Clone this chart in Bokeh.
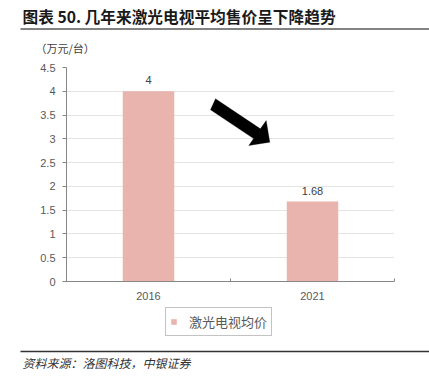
from bokeh.plotting import figure
from bokeh.layouts import column
from bokeh.models import (Range1d, FixedTicker, Label, LabelSet, ColumnDataSource,
                          Legend, LegendItem, PolyAnnotation)
from bokeh.core.properties import value
from bokeh.embed import file_html
from bokeh.resources import INLINE

# ---------------- data ----------------
categories = ["2016", "2021"]
prices = [4, 1.68]
price_labels = ["4", "1.68"]
y_ticks = [0, 0.5, 1, 1.5, 2, 2.5, 3, 3.5, 4, 4.5]
y_tick_labels = ["0", "0.5", "1", "1.5", "2", "2.5", "3", "3.5", "4", "4.5"]
series_name = "激光电视均价"
title_text = "图表 50. 几年来激光电视平均售价呈下降趋势"
unit_text = "（万元/台）"
source_text = "资料来源：洛图科技，中银证券"

BAR_COLOR = "#E9B4AE"
CJK = "Noto Sans CJK SC"
LAT = "Liberation Sans"
W = 429
TOP_H, MAIN_H, BOT_H = 55, 252, 80


def blank_fig(h):
    f = figure(width=W, height=h, x_range=Range1d(0, W), y_range=Range1d(h, 0),
               x_axis_type=None, y_axis_type=None, output_backend="svg",
               toolbar_location=None, min_border=0, frame_align=False)
    f.grid.visible = False
    f.outline_line_color = None
    f.background_fill_color = "white"
    f.border_fill_color = "white"
    return f


# ---------------- header ----------------
top = blank_fig(TOP_H)
top.add_layout(Label(x=22, y=15.5, text=title_text, text_font=CJK,
                     text_font_size="15.7px", text_font_style="bold",
                     text_color="#1a1a1a", text_align="left", text_baseline="middle"))
top.line(x=[20, W], y=[28.5, 28.5], line_color="#595959", line_width=1.5)
top.add_layout(Label(x=35, y=47, text=unit_text, text_font=CJK,
                     text_font_size="11px", text_color="#404040",
                     text_align="left", text_baseline="middle"))

# ---------------- main chart ----------------
FL, FR, FT, FB = 66, 394, 67 - TOP_H, 281 - TOP_H   # frame edges, figure pixels
X0, X1 = 0, len(categories)
Y0, Y1 = 0, 4.5


def dx(px):
    return X0 + (px - FL) / (FR - FL) * (X1 - X0)


def dy(py):
    return Y0 + (FB - (py - TOP_H)) / (FB - FT) * (Y1 - Y0)


p = figure(width=W, height=MAIN_H, x_range=Range1d(X0, X1), y_range=Range1d(Y0, Y1),
           output_backend="svg", toolbar_location=None, frame_align=False,
           min_border_left=FL, min_border_right=W - FR,
           min_border_top=FT, min_border_bottom=MAIN_H - FB)
p.outline_line_color = None
p.background_fill_color = "white"
p.border_fill_color = "white"

xs = [i + 0.5 for i in range(len(categories))]
src = ColumnDataSource(dict(x=xs, price=prices, label=price_labels, cat=categories))

bars = p.vbar(x="x", top="price", width=0.314, source=src,
              fill_color=BAR_COLOR, line_color=None)

labels = LabelSet(x="x", y="price", text="label", source=src, y_offset=7,
                  text_align="center", text_baseline="bottom",
                  text_font=value(LAT), text_font_size=value("11px"),
                  text_color="#404040")
p.add_layout(labels)

# x axis
p.xaxis.ticker = FixedTicker(ticks=xs, minor_ticks=list(range(len(categories) + 1)))
p.xaxis.major_label_overrides = {x: c for x, c in zip(xs, categories)}
p.xaxis.major_tick_line_color = None
p.xaxis.major_tick_out = 0
p.xaxis.major_tick_in = 0
p.xaxis.minor_tick_in = 3
p.xaxis.minor_tick_out = 0
p.xaxis.minor_tick_line_color = "#868686"
p.xaxis.axis_line_color = "#868686"
p.xaxis.major_label_text_font = LAT
p.xaxis.major_label_text_font_size = "11px"
p.xaxis.major_label_text_color = "#595959"
p.xaxis.major_label_standoff = 10

# y axis
p.yaxis.ticker = FixedTicker(ticks=y_ticks)
p.yaxis.major_label_overrides = {t: s for t, s in zip(y_ticks, y_tick_labels)}
p.yaxis.major_tick_in = 0
p.yaxis.major_tick_out = 4
p.yaxis.major_tick_line_color = "#868686"
p.yaxis.minor_tick_line_color = None
p.yaxis.axis_line_color = "#868686"
p.yaxis.major_label_text_font = LAT
p.yaxis.major_label_text_font_size = "11px"
p.yaxis.major_label_text_color = "#595959"
p.yaxis.major_label_standoff = 7

p.xgrid.grid_line_color = None
p.ygrid.ticker = FixedTicker(ticks=y_ticks)
p.ygrid.grid_line_color = "#C8C8C8"
p.ygrid.grid_line_dash = "1 1"
p.ygrid.grid_line_width = 1

# decorative downward arrow (reference-pixel outline)
arrow_px = [(215, 98.3), (259.9, 128.3), (265.7, 120), (269.3, 141.7),
            (248.3, 145), (253.1, 138.1), (210, 109.3)]
p.add_layout(PolyAnnotation(xs=[dx(a) for a, b in arrow_px],
                            ys=[dy(b) for a, b in arrow_px],
                            fill_color="black", fill_alpha=1, line_color="black"))

# ---------------- footer: legend + source ----------------
bot = blank_fig(BOT_H)
# hidden copy of the series, used only to give the legend its swatch
legend_proxy = bot.vbar(x="x", top="price", width=0.314, source=src,
                        fill_color=BAR_COLOR, line_color=None, visible=False)
legend = Legend(items=[LegendItem(label=series_name, renderers=[legend_proxy])],
                location=(165, BOT_H - 29), orientation="horizontal",
                border_line_color="#888888", border_line_width=1,
                background_fill_alpha=1, padding=4, margin=0,
                inactive_fill_alpha=0,
                glyph_width=7, glyph_height=7, label_standoff=12,
                label_height=10, label_width=78,
                label_text_font=CJK, label_text_font_size="13px",
                label_text_color="#595959")
bot.add_layout(legend)
bot.line(x=[20, W], y=[44, 44], line_color="#333333", line_width=1.5)
bot.add_layout(Label(x=22, y=54.7, text=source_text, text_font=CJK,
                     text_font_size="12px", text_font_style="italic",
                     text_color="#333333", text_align="left", text_baseline="middle"))

layout = column(top, p, bot, spacing=0)
open("out.html", "w").write(file_html(layout, INLINE))
